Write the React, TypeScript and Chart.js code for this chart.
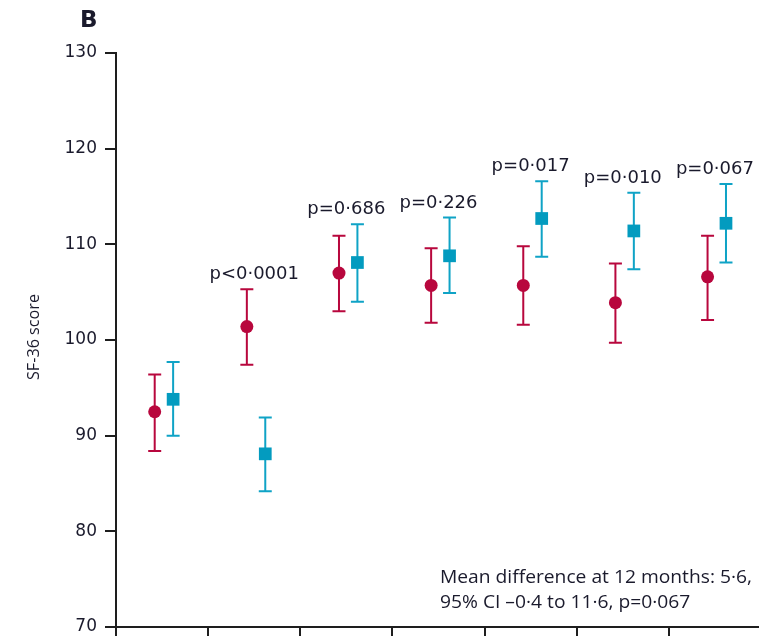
import React, { useEffect, useRef } from 'react';
import { Chart, registerables } from 'chart.js';

Chart.register(...registerables);

// ---------- data ----------
const categories = ['Baseline', '1 wk', '6 wk', '3 mo', '6 mo', '9 mo', '12 mo'];

const redMean = [92.5, 101.4, 107.0, 105.7, 105.7, 103.9, 106.6];
const redLow = [88.4, 97.4, 103.0, 101.8, 101.6, 99.7, 102.1];
const redHigh = [96.4, 105.3, 110.9, 109.6, 109.8, 108.0, 110.9];

const blueMean = [93.8, 88.1, 108.1, 108.8, 112.7, 111.4, 112.2];
const blueLow = [90.0, 84.2, 104.0, 104.9, 108.7, 107.4, 108.1];
const blueHigh = [97.7, 91.9, 112.1, 112.8, 116.6, 115.4, 116.3];

const pLabels = ['', 'p<0·0001', 'p=0·686', 'p=0·226', 'p=0·017', 'p=0·010', 'p=0·067'];

const yMin = 70;
const yMax = 130;
const yStep = 10;

const panelLabel = 'B';
const yTitle = 'SF-36 score';
const annotationLines = ['Mean difference at 12 months: 5·6,', '95% CI –0·4 to 11·6, p=0·067'];

// ---------- styles ----------
const RED = '#b8073d';
const BLUE = '#0fa3c6';
const BLUE_FILL = '#039bbf';
const AXIS = '#1e1e1e';
const TEXT = '#1a1a2c';
const FONT = '"DejaVu Sans", sans-serif';
const FONT2 = '"Open Sans", sans-serif';
const RED_SHIFT = -0.08;
const BLUE_SHIFT = 0.12;

const errorBarsPlugin = {
  id: 'errorBars',
  beforeDatasetsDraw(chart: any) {
    const ctx = chart.ctx;
    const ys = chart.scales.y;
    chart.data.datasets.forEach((ds: any, di: number) => {
      const meta = chart.getDatasetMeta(di);
      ctx.save();
      ctx.strokeStyle = ds.errColor;
      ctx.lineWidth = 2;
      meta.data.forEach((pt: any, i: number) => {
        const x = pt.x;
        const yl = ys.getPixelForValue(ds.errLow[i]);
        const yh = ys.getPixelForValue(ds.errHigh[i]);
        const cap = 6.5;
        ctx.beginPath();
        ctx.moveTo(x, yl);
        ctx.lineTo(x, yh);
        ctx.moveTo(x - cap, yl);
        ctx.lineTo(x + cap, yl);
        ctx.moveTo(x - cap, yh);
        ctx.lineTo(x + cap, yh);
        ctx.stroke();
      });
      ctx.restore();
    });
  },
};

const textPlugin = {
  id: 'texts',
  afterDraw(chart: any) {
    const ctx = chart.ctx;
    const xs = chart.scales.x;
    const ys = chart.scales.y;
    const area = chart.chartArea;
    ctx.save();
    ctx.fillStyle = TEXT;

    // p-value labels
    ctx.font = `18px ${FONT}`;
    ctx.textAlign = 'center';
    ctx.textBaseline = 'alphabetic';
    pLabels.forEach((t, i) => {
      if (!t) return;
      const top = Math.max(redHigh[i], blueHigh[i]);
      ctx.fillText(t, xs.getPixelForValue(i), ys.getPixelForValue(top) - 10);
    });

    // panel label
    ctx.font = `bold 23px ${FONT}`;
    ctx.textAlign = 'left';
    ctx.fillText(panelLabel, 80, 27);

    // y title (rotated)
    ctx.save();
    ctx.font = `17px ${FONT2}`;
    const tw = ctx.measureText(yTitle).width;
    const sx = 86 / tw;
    ctx.translate(34, (area.top + area.bottom) / 2 - 3);
    ctx.rotate(-Math.PI / 2);
    ctx.scale(sx, 1);
    ctx.textAlign = 'center';
    ctx.textBaseline = 'middle';
    ctx.fillText(yTitle, 0, 0);
    ctx.restore();

    // annotation
    ctx.save();
    ctx.font = `19px ${FONT2}`;
    const w1 = ctx.measureText(annotationLines[0]).width;
    const s = 312 / w1;
    ctx.textAlign = 'left';
    ctx.textBaseline = 'alphabetic';
    annotationLines.forEach((line, k) => {
      ctx.save();
      ctx.translate(440, area.bottom - 44 + k * 25);
      ctx.scale(s, 1);
      ctx.fillText(line, 0, 0);
      ctx.restore();
    });
    ctx.restore();

    ctx.restore();
  },
};

export default function App() {
  const ref = useRef<HTMLCanvasElement | null>(null);

  useEffect(() => {
    if (!ref.current) return;
    const chart = new Chart(ref.current, {
      type: 'scatter',
      data: {
        labels: categories,
        datasets: [
          {
            label: 'Group A',
            data: categories.map((_, i) => ({ x: i + RED_SHIFT, y: redMean[i] })),
            xAxisID: 'xv',
            yAxisID: 'y',
            showLine: false,
            pointStyle: 'circle',
            pointRadius: 6.5,
            pointBackgroundColor: RED,
            pointBorderWidth: 0,
            errLow: redLow,
            errHigh: redHigh,
            errColor: RED,
          } as any,
          {
            label: 'Group B',
            data: categories.map((_, i) => ({ x: i + BLUE_SHIFT, y: blueMean[i] })),
            xAxisID: 'xv',
            yAxisID: 'y',
            showLine: false,
            pointStyle: 'rect',
            pointRadius: 9,
            pointBackgroundColor: BLUE_FILL,
            pointBorderWidth: 0,
            errLow: blueLow,
            errHigh: blueHigh,
            errColor: BLUE,
          } as any,
        ],
      },
      options: {
        animation: false,
        responsive: false,
        layout: { padding: { top: 53, right: 29, bottom: 13, left: 0 } },
        plugins: {
          legend: { display: false },
          tooltip: { enabled: false },
          title: { display: false },
        },
        scales: {
          x: {
            type: 'category',
            labels: categories,
            position: 'bottom',
            offset: true,
            grid: {
              offset: true,
              drawOnChartArea: false,
              drawTicks: true,
              tickLength: 12,
              lineWidth: 2,
              color: AXIS,
            },
            border: { display: true, color: AXIS, width: 2 },
            ticks: {
              autoSkip: false,
              maxRotation: 0,
              color: TEXT,
              font: { family: FONT, size: 15 },
            },
            afterFit: (s: any) => {
              s.height = 40;
            },
          } as any,
          xv: {
            type: 'linear',
            display: false,
            min: -0.5,
            max: categories.length - 0.5,
          },
          y: {
            type: 'linear',
            position: 'left',
            min: yMin,
            max: yMax,
            ticks: {
              stepSize: yStep,
              padding: 8,
              color: TEXT,
              font: { family: FONT, size: 17 },
            },
            grid: {
              drawOnChartArea: false,
              drawTicks: true,
              tickLength: 11,
              lineWidth: 2,
              color: AXIS,
            },
            border: { display: true, color: AXIS, width: 2 },
            afterFit: (s: any) => {
              s.width = 116;
            },
          } as any,
        },
      },
      plugins: [errorBarsPlugin, textPlugin],
    });
    return () => chart.destroy();
  }, []);

  return (
    <div
      style={{
        position: 'fixed',
        left: 0,
        top: 0,
        width: 759,
        height: 636,
        overflow: 'hidden',
        background: '#fff',
      }}
    >
      <canvas ref={ref} width={790} height={680} style={{ display: 'block' }} />
    </div>
  );
}
